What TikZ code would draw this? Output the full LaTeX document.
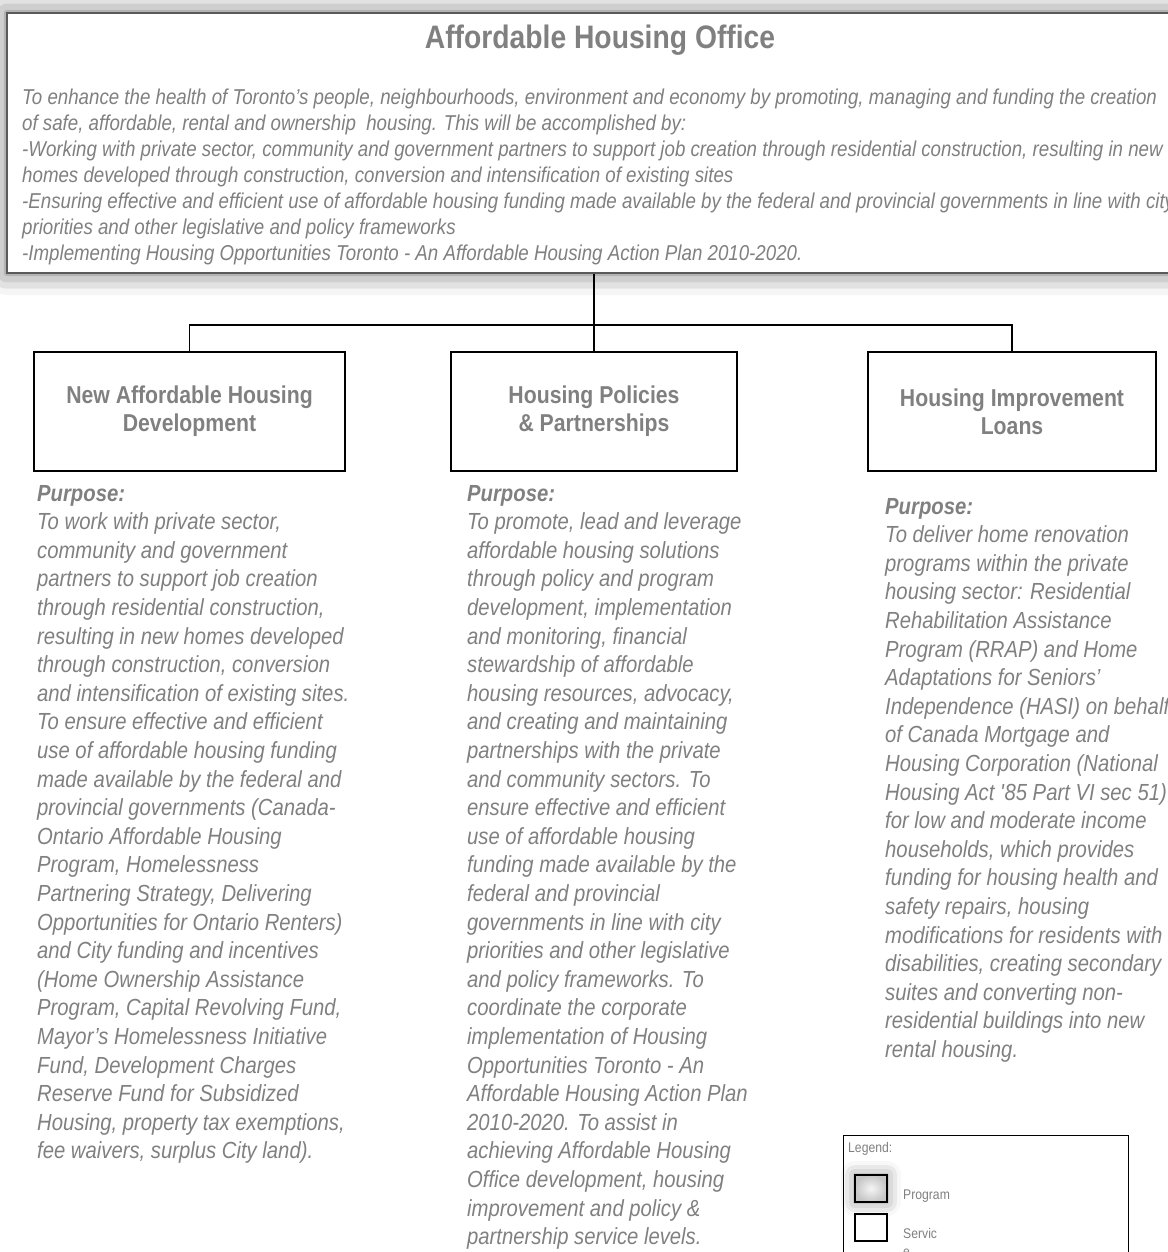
\documentclass[tikz,border=0pt]{standalone}
\usepackage{fontspec}
\setmainfont{Liberation Sans}[FakeStretch=0.87]
\usetikzlibrary{positioning, shadows.blur}
\definecolor{txtgray}{HTML}{808080}
\definecolor{framegray}{HTML}{5A5A5A}

\begin{document}
\begin{tikzpicture}[x=1pt, y=-1pt,
  unitbox/.style={draw, line width=1.6pt, inner sep=0pt, minimum height=119pt,
    text=txtgray, align=center, font=\bfseries\fontsize{24.4}{28}\selectfont},
  purpose/.style={anchor=base west, inner sep=0pt, align=left, text=txtgray,
    font=\itshape\fontsize{23.3}{28.6}\selectfont},
  link/.style={line width=1.8pt},
  keybox/.style={draw, line width=2pt, minimum width=32pt, minimum height=27pt, inner sep=0pt},
  keytext/.style={anchor=base west, inner sep=0pt, align=left, text=txtgray,
    font=\fontsize{14}{18}\selectfont}]

\useasboundingbox (0,0) rectangle (1167,1252);

% office header (text nodes sit on the baseline of their last line)
\node[draw=framegray, line width=1.4pt, fill=white, minimum width=1174pt, minimum height=260pt,
  inner sep=0pt, blur shadow={shadow xshift=0pt, shadow yshift=0pt, shadow blur radius=22pt,
  shadow opacity=60}] (office) at (594,143) {};
\node[text=txtgray, font=\bfseries\fontsize{32.5}{36}\selectfont] (title) at (600,40)
  {Affordable Housing Office};
\node[anchor=base west, inner sep=0pt, align=left, text=txtgray,
  font=\itshape\fontsize{21.5}{26}\selectfont] (mission) at (22,260.5)
  {To enhance the health of Toronto’s people, neighbourhoods, environment and economy by promoting, managing and funding the creation\\
   of safe, affordable, rental and ownership~ housing. This will be accomplished by:\\
   -Working with private sector, community and government partners to support job creation through residential construction, resulting in new\\
   homes developed through construction, conversion and intensification of existing sites\\
   -Ensuring effective and efficient use of affordable housing funding made available by the federal and provincial governments in line with city\\
   priorities and other legislative and policy frameworks\\
   -Implementing Housing Opportunities Toronto - An Affordable Housing Action Plan 2010-2020.};

% programs
\node[unitbox, minimum width=311pt] (devbox) at (189.5,411.5) {New Affordable Housing\\Development};
\node[unitbox, minimum width=286pt] (policybox) at (594,411.5) {Housing Policies\\\& Partnerships};
\node[unitbox, minimum width=288pt] (loanbox) at (1012,411.5) {Housing Improvement\\Loans};

\coordinate (hub) at (594,325);
\draw[link] (office.south) -- (policybox.north);
\draw[link] (devbox.north) |- (hub) -| (loanbox.north);

% purposes
\node[purpose] (devpurpose) at (37,1158.8)
  {\textbf{Purpose:}\\
   To work with private sector,\\
   community and government\\
   partners to support job creation\\
   through residential construction,\\
   resulting in new homes developed\\
   through construction, conversion\\
   and intensification of existing sites.\\
   To ensure effective and efficient\\
   use of affordable housing funding\\
   made available by the federal and\\
   provincial governments (Canada-\\
   Ontario Affordable Housing\\
   Program, Homelessness\\
   Partnering Strategy, Delivering\\
   Opportunities for Ontario Renters)\\
   and City funding and incentives\\
   (Home Ownership Assistance\\
   Program, Capital Revolving Fund,\\
   Mayor’s Homelessness Initiative\\
   Fund, Development Charges\\
   Reserve Fund for Subsidized\\
   Housing, property tax exemptions,\\
   fee waivers, surplus City land).};

\node[purpose] (policypurpose) at (467,1244.6)
  {\textbf{Purpose:}\\
   To promote, lead and leverage\\
   affordable housing solutions\\
   through policy and program\\
   development, implementation\\
   and monitoring, financial\\
   stewardship of affordable\\
   housing resources, advocacy,\\
   and creating and maintaining\\
   partnerships with the private\\
   and community sectors. To\\
   ensure effective and efficient\\
   use of affordable housing\\
   funding made available by the\\
   federal and provincial\\
   governments in line with city\\
   priorities and other legislative\\
   and policy frameworks. To\\
   coordinate the corporate\\
   implementation of Housing\\
   Opportunities Toronto - An\\
   Affordable Housing Action Plan\\
   2010-2020. To assist in\\
   achieving Affordable Housing\\
   Office development, housing\\
   improvement and policy \&\\
   partnership service levels.};

\node[purpose] (loanpurpose) at (885,1057.4)
  {\textbf{Purpose:}\\
   To deliver home renovation\\
   programs within the private\\
   housing sector: Residential\\
   Rehabilitation Assistance\\
   Program (RRAP) and Home\\
   Adaptations for Seniors’\\
   Independence (HASI) on behalf\\
   of Canada Mortgage and\\
   Housing Corporation (National\\
   Housing Act \textquotesingle85 Part VI sec 51)\\
   for low and moderate income\\
   households, which provides\\
   funding for housing health and\\
   safety repairs, housing\\
   modifications for residents with\\
   disabilities, creating secondary\\
   suites and converting non-\\
   residential buildings into new\\
   rental housing.};

% legend
\node[draw, line width=1.4pt, minimum width=285pt, minimum height=170pt, anchor=north west,
  inner sep=0pt] (legend) at (843,1135) {};
\node[keytext] (legendlabel) at (848,1152) {Legend:};
\node[keybox, inner color=white!92!gray, outer color=gray!45,
  blur shadow={shadow xshift=0pt, shadow yshift=0pt, shadow blur radius=14pt,
  shadow opacity=45}] (progkey) at (871,1188.5) {};
\node[keytext] (proglabel) at (903,1199) {Program};
\node[keybox] (servkey) at (871,1227.5) {};
\node[keytext] (servlabel) at (903,1256) {Servic\\e};
\end{tikzpicture}
\end{document}
